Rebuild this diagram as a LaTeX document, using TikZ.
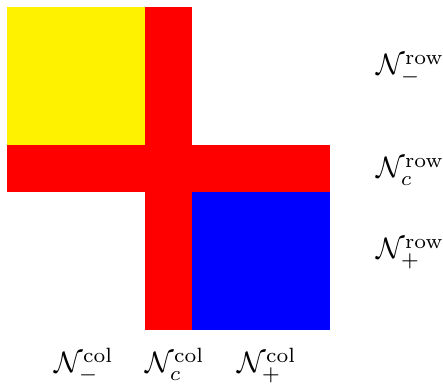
\documentclass[tikz,border=0pt]{standalone}
\begin{document}
\begin{tikzpicture}[x=0.3386pt,y=-0.3386pt,
  blk/.style={inner sep=0pt,outer sep=0pt},
  lbl/.style={inner sep=0pt,anchor=base west}]
\useasboundingbox (0,0) rectangle (443,384);
\fill[yellow] (7,7) rectangle (145,145);
\fill[red] (145,7) rectangle (192,330);
\fill[red] (7,145) rectangle (330,192);
\fill[blue] (192,192) rectangle (330,330);
\node[lbl] (rm) at (376,75) {$\mathcal{N}^{\mathrm{row}}_{-}$};
\node[lbl] (rc) at (376,178) {$\mathcal{N}^{\mathrm{row}}_{c}$};
\node[lbl] (rp) at (376,259) {$\mathcal{N}^{\mathrm{row}}_{+}$};
\node[lbl] (cm) at (54,373) {$\mathcal{N}^{\mathrm{col}}_{-}$};
\node[lbl] (cc) at (145,373) {$\mathcal{N}^{\mathrm{col}}_{c}$};
\node[lbl] (cp) at (237,373) {$\mathcal{N}^{\mathrm{col}}_{+}$};
\end{tikzpicture}
\end{document}
